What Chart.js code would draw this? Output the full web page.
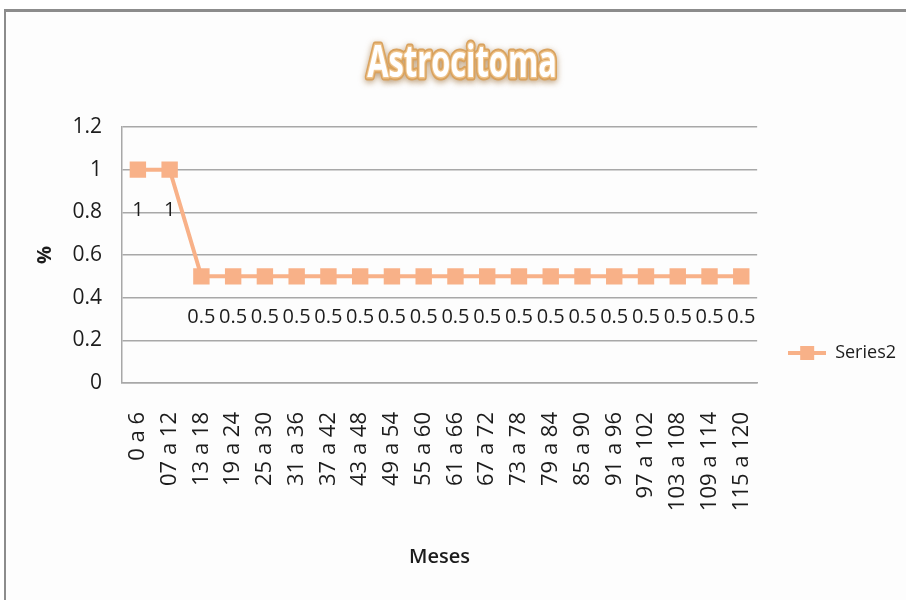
<!DOCTYPE html>
<html lang="pt">
<head>
<meta charset="utf-8">
<title>Astrocitoma</title>
<script src="https://cdn.jsdelivr.net/npm/chart.js@4.4.1/dist/chart.umd.min.js"></script>
<style>
  html, body { margin: 0; padding: 0; background: #fff; }
  #quadro { position: relative; width: 906px; height: 600px; overflow: hidden; }
  #moldura { position: absolute; left: 4px; top: 9px; right: -10px; bottom: -10px; background: #fdfdfd;
             border-top: 3px solid #8c8c8c; border-left: 2px solid #8c8c8c; }
  #grafico { position: absolute; left: 0; top: 0; }
</style>
</head>
<body>
<div id="quadro">
  <div id="moldura"></div>
  <canvas id="grafico" width="906" height="600"></canvas>
</div>
<script>
const categorias = ['0 a 6', '07 a 12', '13 a 18', '19 a 24', '25 a 30', '31 a 36', '37 a 42',
  '43 a 48', '49 a 54', '55 a 60', '61 a 66', '67 a 72', '73 a 78', '79 a 84', '85 a 90',
  '91 a 96', '97 a 102', '103 a 108', '109 a 114', '115 a 120'];
const valores = [1, 1, 0.5, 0.5, 0.5, 0.5, 0.5, 0.5, 0.5, 0.5, 0.5, 0.5, 0.5, 0.5, 0.5,
  0.5, 0.5, 0.5, 0.5, 0.5];
const marcasY = [0, 0.2, 0.4, 0.6, 0.8, 1, 1.2];
const titulo = 'Astrocitoma';
const nomeSerie = 'Series2';

const corSerie = '#F8B188';
const corGrade = '#A8A8A8';
const corTexto = '#1c1c1c';
const fonte = "'Open Sans', sans-serif";


// marcador da legenda: linha com o quadrado no meio
function criarMarcadorLegenda() {
  const c = document.createElement('canvas');
  c.width = 38;
  c.height = 16;
  const ctx = c.getContext('2d');
  ctx.strokeStyle = corSerie;
  ctx.lineWidth = 4;
  ctx.beginPath();
  ctx.moveTo(0, 8);
  ctx.lineTo(38, 8);
  ctx.stroke();
  ctx.fillStyle = corSerie;
  ctx.fillRect(12, 1, 14, 14);
  return c;
}


// titulo branco com contorno dourado
const pluginTitulo = {
  id: 'tituloBrilho',
  afterDraw(chart) {
    const ctx = chart.ctx;
    ctx.save();
    ctx.translate(462, 64);
    ctx.scale(0.7, 1);
    ctx.font = "bold 44px " + fonte;
    ctx.textAlign = 'center';
    ctx.textBaseline = 'middle';
    ctx.lineJoin = 'round';

    ctx.shadowColor = 'rgba(150, 100, 40, 0.6)';
    ctx.shadowBlur = 6;
    ctx.shadowOffsetY = 2;
    ctx.strokeStyle = '#D9A25E';
    ctx.lineWidth = 7;
    ctx.strokeText(titulo, 0, 0);

    ctx.shadowColor = 'transparent';
    ctx.strokeStyle = '#EFC48C';
    ctx.lineWidth = 3;
    ctx.strokeText(titulo, 0, 0);

    ctx.fillStyle = '#fff';
    ctx.fillText(titulo, 0, 0);
    ctx.restore();
  }
};


// valor escrito abaixo de cada ponto
const pluginRotulos = {
  id: 'rotulosValores',
  afterDatasetsDraw(chart) {
    const ctx = chart.ctx;
    const meta = chart.getDatasetMeta(0);
    ctx.save();
    ctx.font = "20px " + fonte;
    ctx.fillStyle = corTexto;
    ctx.textAlign = 'center';
    ctx.textBaseline = 'middle';
    meta.data.forEach((pt, i) => {
      ctx.fillText(String(valores[i]), pt.x, pt.y + 41);
    });
    ctx.restore();
  }
};


new Chart(document.getElementById('grafico'), {
  type: 'line',
  data: {
    labels: categorias,
    datasets: [{
      label: nomeSerie,
      data: valores,
      borderColor: corSerie,
      backgroundColor: corSerie,
      borderWidth: 4,
      pointStyle: 'rect',
      pointRadius: 11.6,
      pointHoverRadius: 11.6,
      pointBorderWidth: 0,
      tension: 0
    }]
  },
  options: {
    responsive: false,
    animation: false,
    layout: { padding: { top: 127, left: 30, right: 0, bottom: 21 } },
    plugins: {
      legend: {
        position: 'right',
        labels: {
          usePointStyle: true,
          pointStyle: criarMarcadorLegenda(),
          pointStyleWidth: 38,
          padding: 31,
          color: corTexto,
          font: { family: fonte, size: 18 }
        }
      },
      tooltip: { enabled: false }
    },
    scales: {
      x: {
        offset: true,
        afterFit: (s) => { s.height = 600 - 21 - 383; },
        ticks: {
          color: corTexto,
          font: { family: fonte, size: 22 },
          minRotation: 90,
          maxRotation: 90,
          autoSkip: false,
          padding: 29
        },
        grid: { display: false, drawTicks: false },
        border: { color: corGrade, width: 1.5 },
        title: {
          display: true,
          text: 'Meses',
          color: corTexto,
          font: { family: fonte, size: 20, weight: '600' },
          padding: { top: 0, bottom: 10 }
        }
      },
      y: {
        min: 0,
        max: 1.2,
        afterBuildTicks: (s) => { s.ticks = marcasY.map(v => ({ value: v })); },
        afterFit: (s) => { s.width = 122 - 30; },
        ticks: {
          color: corTexto,
          font: { family: fonte, size: 21 },
          padding: 20,
          callback: (v) => String(v)
        },
        grid: { color: corGrade, lineWidth: 1.5, drawTicks: false },
        border: { color: corGrade, width: 1.5 },
        title: {
          display: true,
          text: '%',
          color: corTexto,
          font: { family: fonte, size: 20, weight: 'bold' },
          padding: { top: 3 }
        }
      }
    }
  },
  plugins: [pluginRotulos, pluginTitulo]
});
</script>
</body>
</html>
